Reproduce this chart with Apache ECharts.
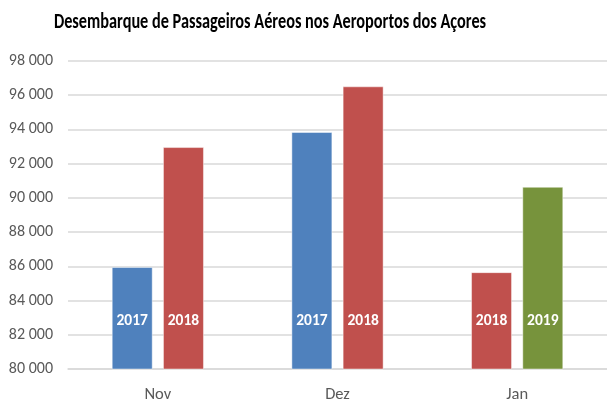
<!DOCTYPE html>
<html>
<head>
<meta charset="utf-8">
<script src="https://cdn.jsdelivr.net/npm/echarts@6/dist/echarts.min.js"></script>
<style>
html,body{margin:0;padding:0;background:#fff;}
#chart{width:607px;height:401px;}
</style>
</head>
<body>
<div id="chart"></div>
<script>
const titleText = 'Desembarque de Passageiros Aéreos nos Aeroportos dos Açores';
const categories = ['Nov', 'Dez', 'Jan'];
const leftYears = ['2017', '2017', '2018'];
const leftValues = [85960, 93850, 85660];
const rightYears = ['2018', '2018', '2019'];
const rightValues = [92970, 96520, 90650];
const yearColors = { '2017': '#4F81BD', '2018': '#C0504D', '2019': '#77933C' };

const FONT = 'Carlito, "Open Sans", sans-serif';

function makeData(values, years) {
  return values.map((v, i) => ({
    value: v,
    year: years[i],
    itemStyle: { color: yearColors[years[i]] }
  }));
}

const labelCfg = {
  show: true,
  position: 'insideBottom',
  distance: 40,
  color: '#ffffff',
  fontFamily: FONT,
  fontWeight: 'bold',
  fontSize: 15.5,
  formatter: p => p.data.year
};

const chart = echarts.init(document.getElementById('chart'), null, { renderer: 'canvas' });
chart.setOption({
  animation: false,
  backgroundColor: '#ffffff',
  graphic: [{
    type: 'text',
    x: 270,
    y: 22,
    scaleX: 0.74,
    style: {
      text: titleText,
      x: 0,
      y: 0,
      textAlign: 'center',
      textVerticalAlign: 'middle',
      fill: '#000000',
      font: 'bold 22px ' + FONT
    }
  }],
  grid: { left: 68, right: 0, top: 61, bottom: 32, containLabel: false, outerBoundsMode: 'none' },
  xAxis: {
    type: 'category',
    data: categories,
    axisLine: { show: true, lineStyle: { color: '#d9d9d9', width: 1.5 } },
    axisTick: { show: false },
    axisLabel: { color: '#595959', fontFamily: FONT, fontSize: 16.5, margin: 17 }
  },
  yAxis: {
    type: 'value',
    min: 80000,
    max: 98000,
    interval: 2000,
    axisLine: { show: false },
    axisTick: { show: false },
    splitLine: { lineStyle: { color: '#d9d9d9', width: 1.5 } },
    axisLabel: {
      color: '#595959', fontFamily: FONT, fontSize: 16, margin: 15,
      formatter: v => String(v).replace(/\B(?=(\d{3})+(?!\d))/g, ' ')
    }
  },
  series: [
    {
      type: 'bar',
      data: makeData(leftValues, leftYears),
      barWidth: 41,
      barGap: '25%',
      itemStyle: { borderColor: 'rgba(255,255,255,0.45)', borderWidth: 1 },
      label: labelCfg
    },
    {
      type: 'bar',
      data: makeData(rightValues, rightYears),
      barWidth: 41,
      barGap: '25%',
      itemStyle: { borderColor: 'rgba(255,255,255,0.45)', borderWidth: 1 },
      label: labelCfg
    }
  ]
});
</script>
</body>
</html>
